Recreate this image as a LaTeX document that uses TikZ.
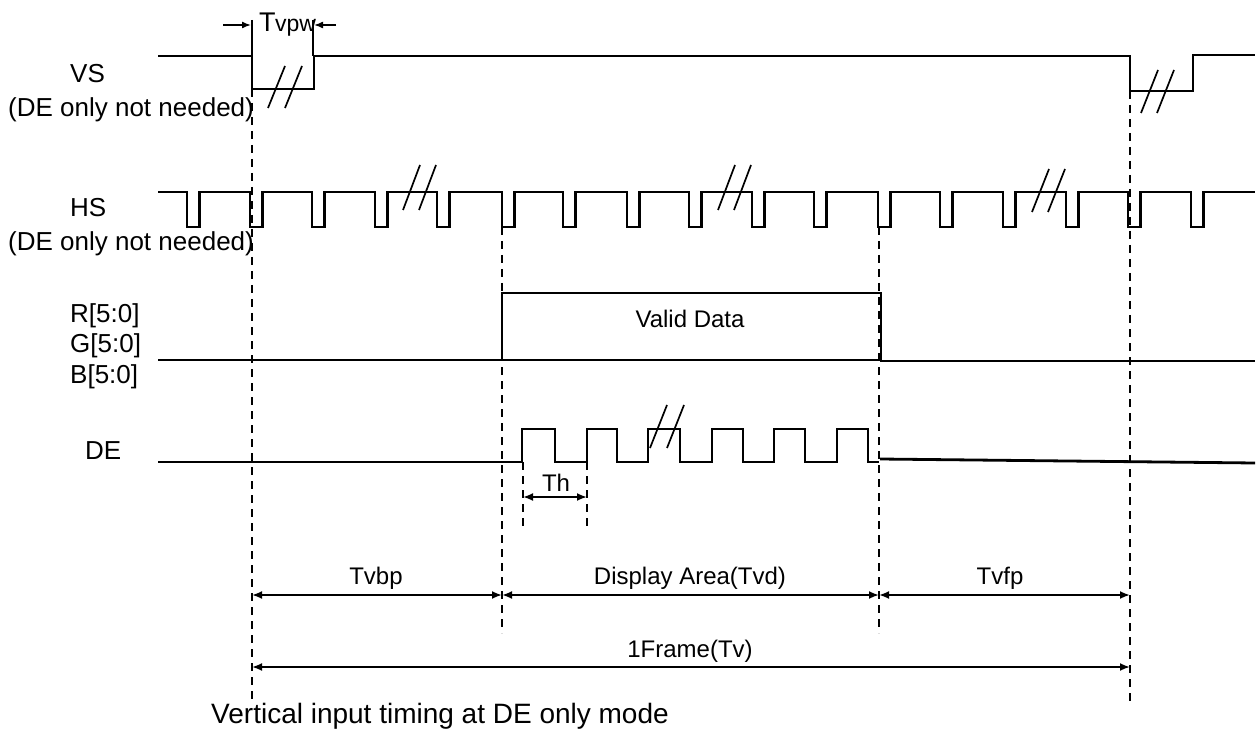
\documentclass[tikz,border=0pt]{standalone}
\usepackage{fontspec}
\setmainfont{Liberation Sans}
\usetikzlibrary{arrows.meta}
\begin{document}
\begin{tikzpicture}[x=1pt,y=-1pt,
  sig/.style={line width=2.8pt, line join=miter, line cap=butt},
  guide/.style={line width=2pt, dash pattern=on 8pt off 6pt},
  brk/.style={line width=1.7pt},
  tick/.style={line width=1.5pt},
  dim/.style={line width=1.9pt, {Latex[length=10pt,width=8pt]}-{Latex[length=10pt,width=8pt]}},
  onearrow/.style={line width=1.5pt, -{Latex[length=9pt,width=7pt]}},
  lbl/.style={font=\fontsize{26}{31}\selectfont, inner sep=0pt, anchor=base west},
  txt/.style={font=\fontsize{24}{29}\selectfont, inner sep=0pt, anchor=base}]
\useasboundingbox (0,0) rectangle (1258,735);

% named coordinates for the guide lines
\coordinate (gA) at (252,89);   \coordinate (gAb) at (252,702);
\coordinate (gB) at (502,227);  \coordinate (gBb) at (502,633);
\coordinate (gC) at (879,227);  \coordinate (gCb) at (879,633);
\coordinate (gD) at (1130,91);  \coordinate (gDb) at (1130,702);
\coordinate (gE) at (523,462);  \coordinate (gEb) at (523,527);
\coordinate (gF) at (587,462);  \coordinate (gFb) at (587,527);

% left labels
\node[lbl] (vs) at (70,83) {VS};
\node[lbl] (vsn) at (8,117) {(DE only not needed)};
\node[lbl] (hs) at (70,217) {HS};
\node[lbl] (hsn) at (8,251) {(DE only not needed)};
\node[lbl] (r) at (70,322) {R[5:0]};
\node[lbl] (g) at (70,352) {G[5:0]};
\node[lbl] (b) at (70,383) {B[5:0]};
\node[lbl] (de) at (85,459) {DE};

% VS waveform
\draw[sig] (158,56) -- (252,56) -- (252,89) -- (314,89) -- (314,56) -- (1130,56)
  -- (1130,91) -- (1193,91) -- (1193,55) -- (1255,55);
\draw[brk] (268,108) -- (285,66) (285,108) -- (302,66);
\draw[brk] (1141,113) -- (1158,70) (1157,113) -- (1174,70);

% Tvpw
\coordinate (tpL) at (252,20); \coordinate (tpR) at (313,20);
\draw[tick] (tpL) -- (252,56);
\draw[tick] (tpR) -- (313,56);
\coordinate (taL) at (223,25); \coordinate (taR) at (336,25);
\draw[onearrow] (taL) -- (251,25);
\draw[onearrow] (taR) -- (314,25);
\node[txt, anchor=base west, font=\fontsize{27}{30}\selectfont] (tvpw) at (259,32) {T\kern-0.5pt{\fontsize{23}{28}\selectfont vpw}};

% HS waveform
\draw[sig] (158,192)
  foreach \p in {187,250,312,375,437,502,563,627,689,752,814,878,940,1003,1066,1128,1191}
  { -- (\p,192) -- (\p,227) -- ({\p+12.5},227) -- ({\p+12.5},192) }
  -- (1255,192);
\draw[brk] (403,210) -- (420,165) (419,210) -- (436,165);
\draw[brk] (718,210) -- (735,165) (734,210) -- (751,165);
\draw[brk] (1032,212) -- (1049,169) (1048,212) -- (1065,169);

% RGB data
\draw[sig] (158,360) -- (502,360) -- (502,293) -- (881,293) -- (881,361) -- (1255,361);
\draw[sig] (502,360) -- (881,360);
\node[txt] (valid) at (690,327) {Valid Data};

% DE waveform
\draw[sig] (158,462)
  foreach \r/\f in {522/555,587/617,648/680,712/743,774/805,837/868}
  { -- (\r,462) -- (\r,429) -- (\f,429) -- (\f,462) }
  -- (879,462);
\draw[sig] (880,459) -- (1255,463);
\draw[brk] (650,448) -- (667,405) (667,448) -- (684,405);

% guide lines
\draw[guide] (gA) -- (gAb);
\draw[guide] (gB) -- (gBb);
\draw[guide] (gC) -- (gCb);
\draw[guide] (gD) -- (gDb);
\draw[guide] (gE) -- (gEb);
\draw[guide] (gF) -- (gFb);

% Th
\coordinate (thL) at (523,497); \coordinate (thR) at (587,497);
\draw[dim] (thL) -- (thR);
\node[txt] (th) at (556,491) {Th};

% bottom dimensions
\coordinate (d1) at (252,595); \coordinate (d2) at (502,595);
\coordinate (d3) at (879,595); \coordinate (d4) at (1130,595);
\coordinate (f1) at (252,667); \coordinate (f2) at (1130,667);
\draw[dim] (d1) -- (d2);
\draw[dim] (d2) -- (d3);
\draw[dim] (d3) -- (d4);
\draw[dim] (f1) -- (f2);
\node[txt] (tvbp) at (376,584) {Tvbp};
\node[txt] (tvd) at (690,584) {Display Area(Tvd)};
\node[txt] (tvfp) at (1000,584) {Tvfp};
\node[txt] (tv) at (690,657) {1Frame(Tv)};

\node[txt, font=\fontsize{28}{33}\selectfont] (cap) at (440,723) {Vertical input timing at DE only mode};
\end{tikzpicture}
\end{document}
